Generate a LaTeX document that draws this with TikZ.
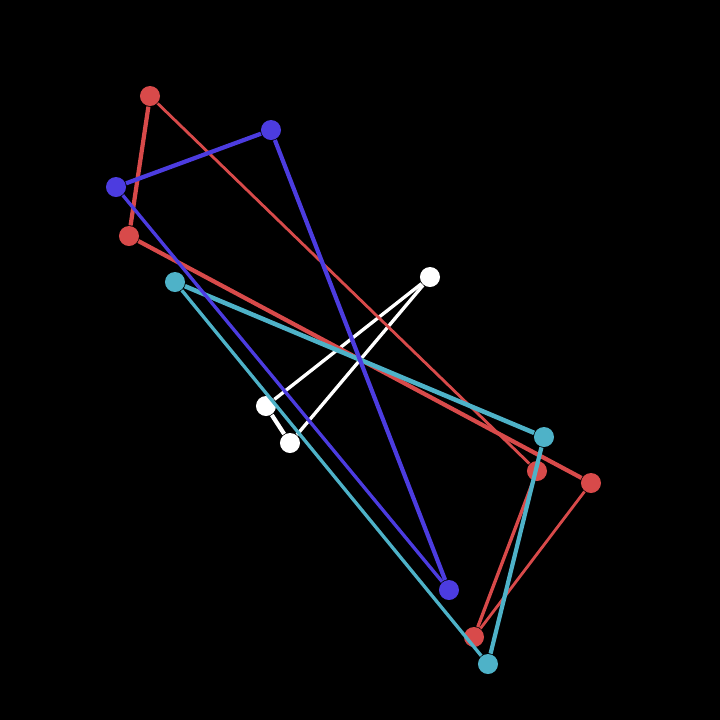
\documentclass[tikz,border=0pt]{standalone}
\begin{document}
\begin{tikzpicture}[x=0.01cm,y=-0.01cm,
    dot/.style={circle,fill,inner sep=0,minimum size=0.2cm},
    thin edge/.style={line width=0.8pt},
    mid edge/.style={line width=0.95pt},
    thick edge/.style={line width=1.2pt}]
    \definecolor{c1}{RGB}{216,74,74}
    \definecolor{c2}{RGB}{78,178,200}
    \definecolor{c3}{RGB}{76,60,224}

    \fill[black] (0,0) rectangle (720,720);

    %% white
    \node[dot,white] (w1) at (430,277) {};
    \node[dot,white] (w2) at (266,406) {};
    \node[dot,white] (w3) at (290,443) {};
    \draw[white,mid edge] (w1) -- (w2);
    \draw[white,thick edge] (w2) -- (w3);
    \draw[white,mid edge] (w3) -- (w1);

    %% red
    \node[dot,c1] (r1) at (150,96) {};
    \node[dot,c1] (r2) at (129,236) {};
    \node[dot,c1] (r3) at (591,483) {};
    \node[dot,c1] (r4) at (474,637) {};
    \node[dot,c1] (r5) at (537,471) {};
    \draw[c1,thick edge] (r1) -- (r2);
    \draw[c1,thick edge] (r2) -- (r3);
    \draw[c1,thin edge] (r3) -- (r4);
    \draw[c1,mid edge] (r4) -- (r5);
    \draw[c1,thin edge] (r5) -- (r1);

    %% cyan
    \node[dot,c2] (k1) at (175,282) {};
    \node[dot,c2] (k2) at (544,437) {};
    \node[dot,c2] (k3) at (488,664) {};
    \draw[c2,line width=1.3pt] (k1) -- (k2);
    \draw[c2,thick edge] (k2) -- (k3);
    \draw[c2,mid edge] (k3) -- (k1);

    %% blue
    \node[dot,c3] (b1) at (271,130) {};
    \node[dot,c3] (b2) at (116,187) {};
    \node[dot,c3] (b3) at (449,590) {};
    \draw[c3,thick edge] (b1) -- (b2);
    \draw[c3,thick edge] (b1) -- (b3);
    \draw[c3,mid edge] (b3) -- (b2);

\end{tikzpicture}
\end{document}
